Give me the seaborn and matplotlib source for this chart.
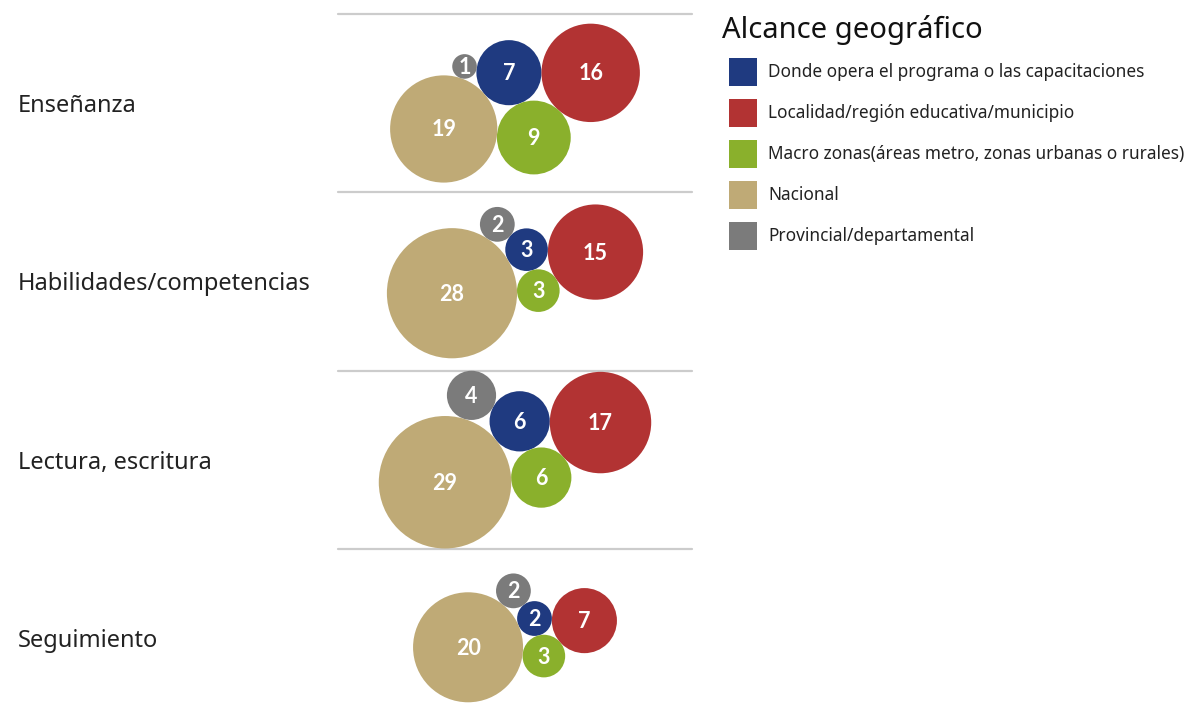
import numpy as np
import pandas as pd
import seaborn as sns
import matplotlib
matplotlib.use("Agg")
import matplotlib.pyplot as plt
from matplotlib.patches import Patch

# ---------------- data ----------------
rows = ["Enseñanza", "Habilidades/competencias", "Lectura, escritura", "Seguimiento"]
categories = [
    "Donde opera el programa o las capacitaciones",
    "Localidad/región educativa/municipio",
    "Macro zonas(áreas metro, zonas urbanas o rurales)",
    "Nacional",
    "Provincial/departamental",
]
donde = [7, 3, 6, 2]
localidad = [16, 15, 17, 7]
macro = [9, 3, 6, 3]
nacional = [19, 28, 29, 20]
provincial = [1, 2, 4, 2]
legend_title = "Alcance geográfico"

colors = {
    categories[0]: "#1f3a80",
    categories[1]: "#b23333",
    categories[2]: "#8ab02c",
    categories[3]: "#bfaa76",
    categories[4]: "#7b7b7b",
}

# ---------------- layout parameters ----------------
W, H, DPI = 1188, 723, 100
PX2PT = 72.0 / DPI
K = 12.3                       # px radius per sqrt(value)
pair_angle_deg = [21, 16, 21, 14]  # packing seed angle per row
panel_x0, panel_x1 = 338, 692
row_edges = np.linspace(14, 727, len(rows) + 1)
row_centers = (row_edges[:-1] + row_edges[1:]) / 2


def radius(v):
    return K * np.sqrt(v)


def tangent_candidates(c1, r1, c2, r2, r):
    d1, d2 = r1 + r, r2 + r
    v = c2 - c1
    D = np.hypot(*v)
    a = (d1 ** 2 - d2 ** 2 + D ** 2) / (2 * D)
    h = np.sqrt(max(d1 ** 2 - a ** 2, 0.0))
    base = c1 + a * v / D
    perp = np.array([-v[1], v[0]]) / D
    return base + h * perp, base - h * perp


def pack_row(vals, ang):
    """Front packing: blue & green seed pair, nacional left, localidad right,
    provincial on top between blue and nacional (y grows downward)."""
    rb, rl, rm, rn, rp = (radius(v) for v in vals)
    cb = np.array([0.0, 0.0])
    t = np.deg2rad(ang)
    cm = (rb + rm) * np.array([np.sin(t), np.cos(t)])
    cn = min(tangent_candidates(cb, rb, cm, rm, rn), key=lambda c: c[0])
    cl = max(tangent_candidates(cb, rb, cm, rm, rl), key=lambda c: c[0])
    cp = min(tangent_candidates(cb, rb, cn, rn, rp), key=lambda c: c[1])
    centers = np.array([cb, cl, cm, cn, cp])
    rads = np.array([rb, rl, rm, rn, rp])
    return centers, rads


records = []
for i, row in enumerate(rows):
    vals = [donde[i], localidad[i], macro[i], nacional[i], provincial[i]]
    centers, rads = pack_row(vals, pair_angle_deg[i])
    xmin = (centers[:, 0] - rads).min(); xmax = (centers[:, 0] + rads).max()
    ymin = (centers[:, 1] - rads).min(); ymax = (centers[:, 1] + rads).max()
    dx = (panel_x0 + panel_x1) / 2 - (xmin + xmax) / 2
    dy = row_centers[i] - (ymin + ymax) / 2
    for cat, v, c in zip(categories, vals, centers):
        records.append({"row": row, "cat": cat, "value": v,
                        "x": c[0] + dx, "y": c[1] + dy})
df = pd.DataFrame(records)

# ---------------- drawing ----------------
sns.set_theme(style="white")
plt.rcParams["font.family"] = ["Noto Sans", "DejaVu Sans"]

fig = plt.figure(figsize=(W / DPI, H / DPI), dpi=DPI)
ax = fig.add_axes([panel_x0 / W, 0, (panel_x1 - panel_x0) / W, (H - 14) / H])
ax.set_xlim(panel_x0, panel_x1)
ax.set_ylim(H, 14)

vmax = max(nacional)
smax = (2 * radius(vmax) * PX2PT) ** 2
sns.scatterplot(data=df, x="x", y="y", hue="cat", palette=colors,
                size="value", sizes=(0, smax), size_norm=(0, vmax),
                linewidth=0, legend=False, ax=ax, clip_on=False, zorder=3)

for _, r in df.iterrows():
    ax.text(r["x"], r["y"] + 1, str(r["value"]), color="white", ha="center",
            va="center", fontsize=15.5, fontweight="bold", family="Lato", zorder=4)

for yb in row_edges[:-1]:
    ax.axhline(yb, color="#cccccc", lw=1.6, clip_on=False, zorder=1)

ax.set_xlabel(""); ax.set_ylabel("")
ax.set_xticks([])
ax.set_yticks(row_centers)
ax.set_yticklabels(rows, fontsize=17, color="#222222")
ax.tick_params(axis="y", length=0, pad=(panel_x0 - 18) * PX2PT)
for lab in ax.get_yticklabels():
    lab.set_horizontalalignment("left")
sns.despine(ax=ax, left=True, bottom=True)

fig.text(722 / W, 1 - 30 / H, legend_title, fontsize=21, color="#111111",
         ha="left", va="center")

handles = [Patch(facecolor=colors[c], edgecolor="none") for c in categories]
leg = fig.legend(handles, categories, loc="upper left",
                 bbox_to_anchor=(729 / W, 1 - 58 / H), frameon=False,
                 fontsize=12.4, handlelength=1.63, handleheight=2.125,
                 handletextpad=0.65, labelspacing=0.75, borderpad=0,
                 borderaxespad=0)
for t in leg.get_texts():
    t.set_color("#222222")

fig.savefig("out.png", dpi=DPI)
